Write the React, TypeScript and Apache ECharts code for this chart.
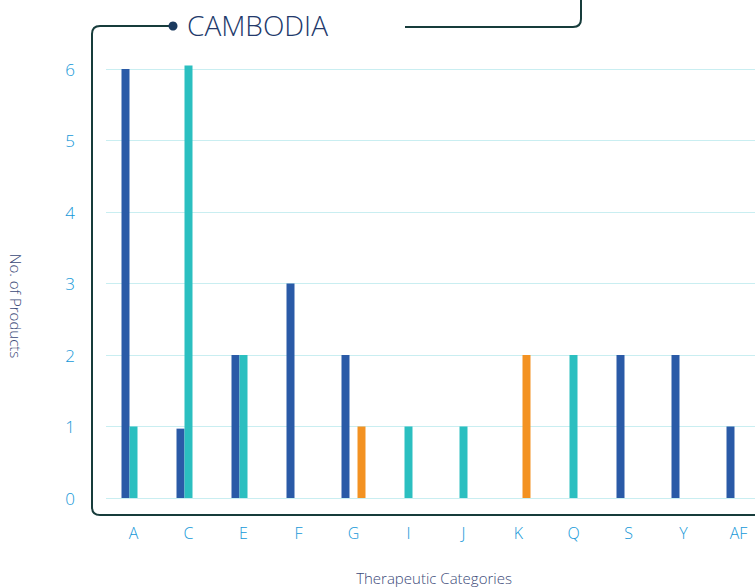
import React, { useEffect, useRef } from "react";
import * as echarts from "echarts";

const categories = ["A", "C", "E", "F", "G", "I", "J", "K", "Q", "S", "Y", "AF"];
const seriesNavy = [6, 0.97, 2, 3, 2, null, null, null, null, 2, 2, 1];
const seriesTeal = [1, 6.05, 2, null, null, 1, 1, null, 2, null, null, null];
const seriesOrange = [null, null, null, null, 1, null, null, 2, null, null, null, null];
const yTicks = { min: 0, max: 6, interval: 1 };

const FRAME_LEFT = "M173 26 L100 26 Q92 26 92 34 L92 507 Q92 515 100 515 L770 515";
const FRAME_RIGHT = "M405 27 L573 27 Q581 27 581 19 L581 -10";

let registered = false;
function registerShapes() {
  if (registered) return;
  echarts.graphic.registerShape("frameLeft", echarts.graphic.extendPath(FRAME_LEFT, {}) as any);
  echarts.graphic.registerShape("frameRight", echarts.graphic.extendPath(FRAME_RIGHT, {}) as any);
  registered = true;
}

export default function App() {
  const ref = useRef<HTMLDivElement>(null);
  useEffect(() => {
    if (!ref.current) return;
    registerShapes();
    const chart = echarts.init(ref.current, undefined, { renderer: "svg" });
    const font = "'Open Sans', Lato, sans-serif";
    const lineColor = "#173c3b";
    chart.setOption({
      animation: false,
      grid: { left: 106, top: 69, width: 660, height: 429, containLabel: false, outerBoundsMode: "none" },
      xAxis: {
        type: "category",
        data: categories,
        axisLine: { show: false },
        axisTick: { show: false },
        axisLabel: { color: "#1598d8", fontSize: 16, fontWeight: 300, fontFamily: font, margin: 27 },
      },
      yAxis: {
        type: "value",
        min: yTicks.min,
        max: yTicks.max,
        interval: yTicks.interval,
        axisLine: { show: false },
        axisTick: { show: false },
        axisLabel: { color: "#1598d8", fontSize: 17, fontWeight: 300, fontFamily: font, margin: 31 },
        splitLine: { lineStyle: { color: "#c9eef1", width: 1 } },
      },
      series: [
        { name: "navy", type: "bar", data: seriesNavy, barWidth: 8, barGap: "0%", clip: false,
          itemStyle: { color: "#2a5aa7" } },
        { name: "teal", type: "bar", data: seriesTeal, barWidth: 8, barGap: "0%", clip: false,
          itemStyle: { color: "#2bbfc0" } },
        { name: "orange", type: "bar", data: seriesOrange, barWidth: 8, barGap: "0%", clip: false,
          itemStyle: { color: "#f39222" } },
      ],
      graphic: [
        { type: "frameLeft", x: 0, y: 0, silent: true,
          style: { stroke: lineColor, lineWidth: 2, fill: null } },
        { type: "frameRight", x: 0, y: 0, silent: true,
          style: { stroke: lineColor, lineWidth: 2, fill: null } },
        { type: "circle", shape: { cx: 173, cy: 26, r: 4.5 }, style: { fill: "#1b3a5e" } },
        { type: "text", x: 187, y: 25, style: { text: "CAMBODIA", fontSize: 28, fontWeight: 300,
          fontFamily: font, fill: "#22396b", verticalAlign: "middle" } },
        { type: "text", x: 434, y: 578, style: { text: "Therapeutic Categories", fontSize: 15,
          fontWeight: 300, fontFamily: font, fill: "#3b4a78", align: "center", verticalAlign: "middle" } },
        { type: "text", x: 16, y: 306, rotation: -Math.PI / 2, style: { text: "No. of Products",
          fontSize: 15, fontWeight: 300, fontFamily: font, fill: "#3b4a78", align: "center",
          verticalAlign: "middle" } },
      ],
    });
    return () => chart.dispose();
  }, []);
  return <div ref={ref} style={{ width: 755, height: 587, position: "absolute", left: 0, top: 0 }} />;
}
